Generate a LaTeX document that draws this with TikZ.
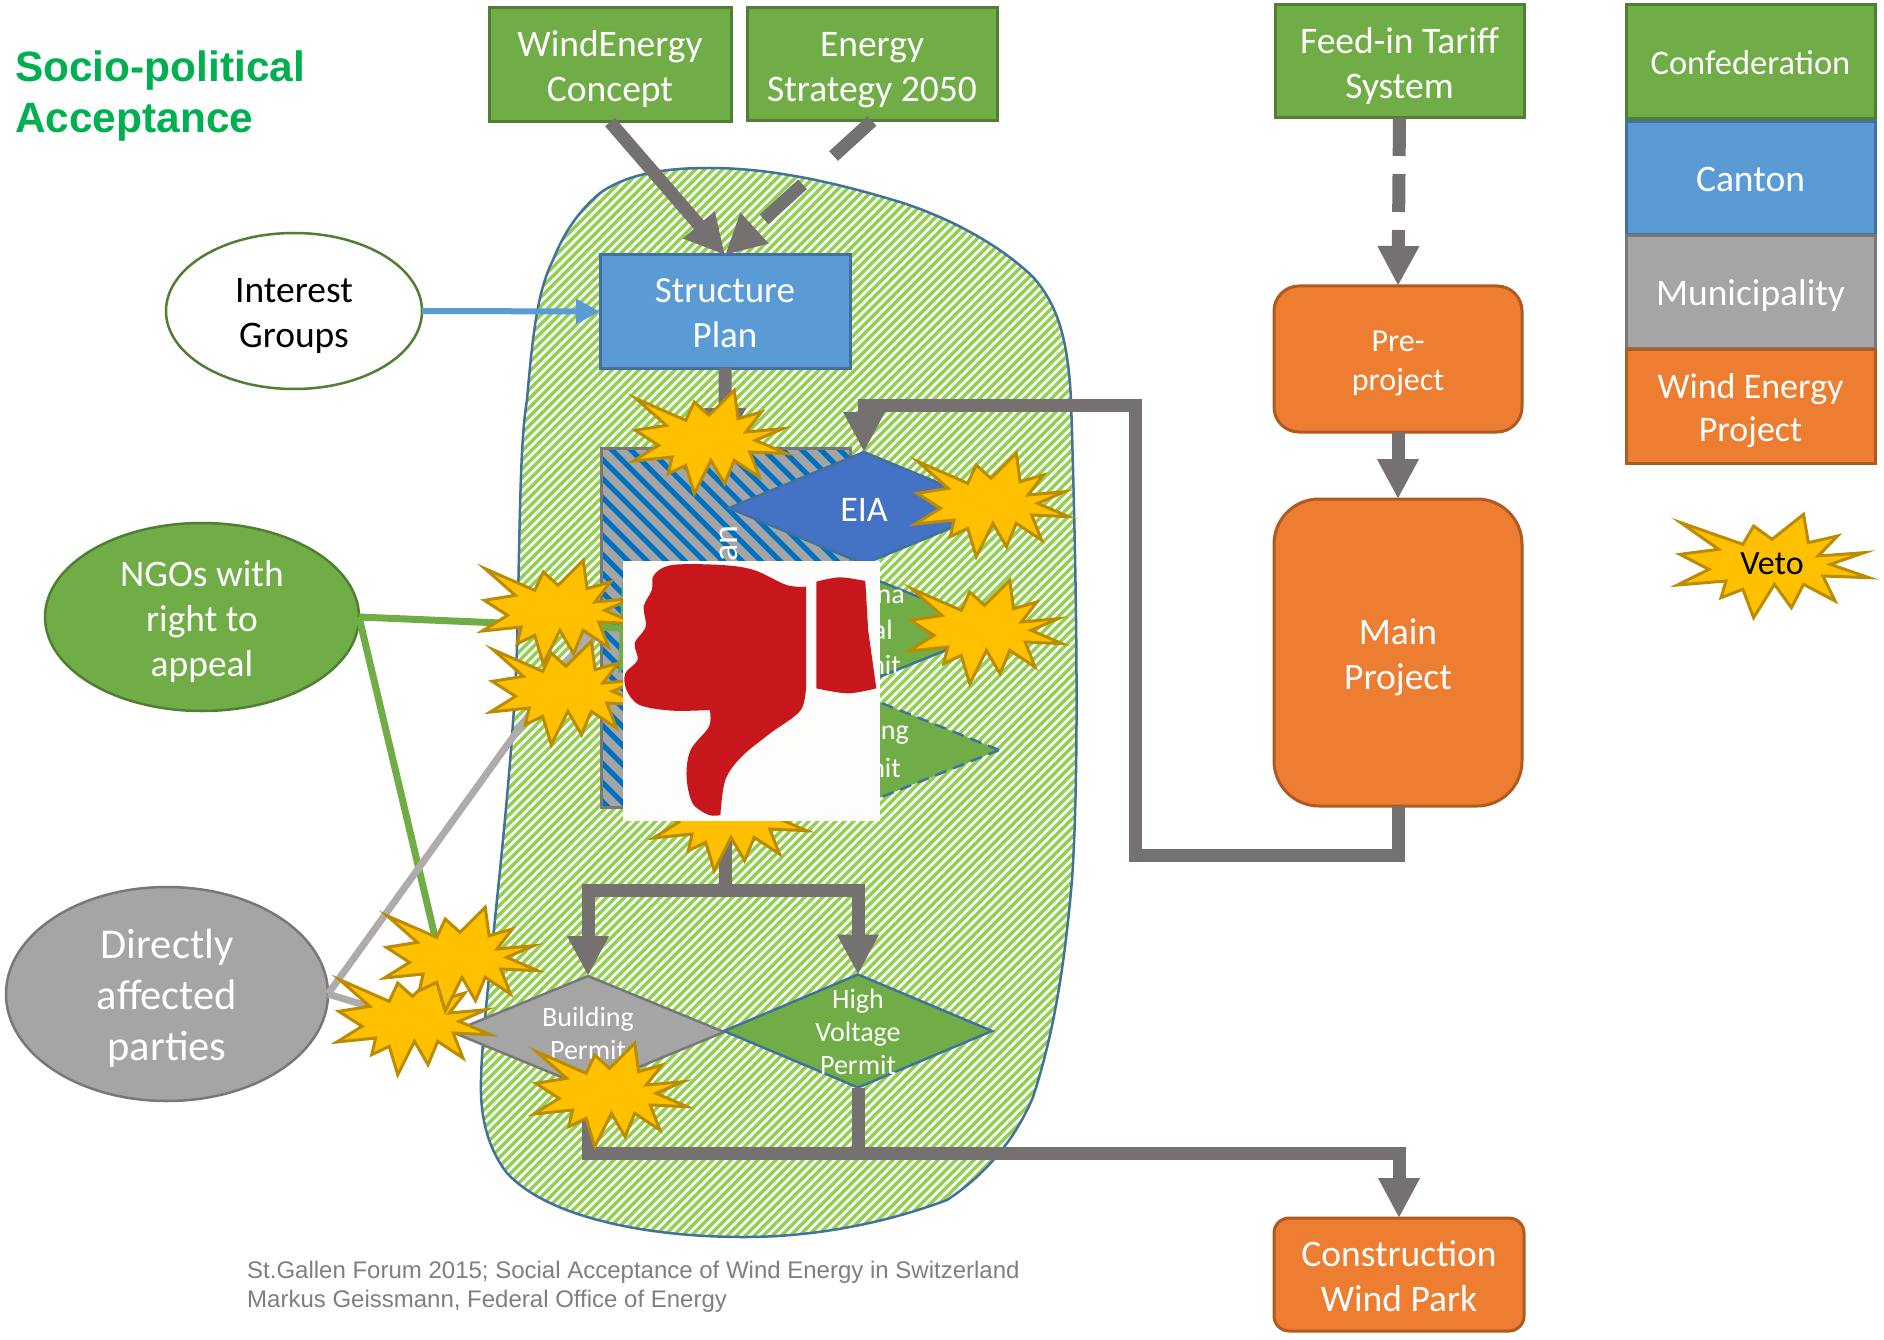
\documentclass[tikz,border=0pt]{standalone}
\usepackage{fontspec}
\setmainfont{Carlito}
\newfontfamily\arialfont{Liberation Sans}
\usetikzlibrary{arrows.meta,shapes.geometric}
\definecolor{cgreen}{HTML}{70AD47}\definecolor{cgreenb}{HTML}{507E32}
\definecolor{cblue}{HTML}{5B9BD5}\definecolor{cblueb}{HTML}{41719C}
\definecolor{cgrey}{HTML}{A5A5A5}\definecolor{cgreyb}{HTML}{787878}
\definecolor{corange}{HTML}{ED7D31}\definecolor{corangeb}{HTML}{AE5A21}
\definecolor{flowgrey}{HTML}{767171}\definecolor{lightgrey}{HTML}{AFABAB}
\definecolor{stripegreen}{HTML}{92D050}\definecolor{stripeblue}{HTML}{0070C0}
\definecolor{eiablue}{HTML}{4472C4}\definecolor{titlegreen}{HTML}{00B050}
\definecolor{burstfill}{HTML}{FFC000}\definecolor{burstline}{HTML}{BC8C00}
\definecolor{handred}{HTML}{C8171C}\definecolor{imgwhite}{HTML}{FDFEFB}
\definecolor{foot}{HTML}{7F7F7F}
\newcommand\fs[2]{\fontsize{#1}{#2}\selectfont}
\newcommand\fl{\rule{0pt}{1.03em}}
\newcommand\vetostar[2]{%
  \begin{scope}[shift={(#1)},x=#2*0.388pt,y=-0.33333pt]
    \draw[burst] (65,-155)--(75,-70)--(135,-90)--(95,-30)--(190,-40)--(120,-5)--(200,35)--(105,30)--(130,105)--(65,55)--(40,125)--(5,55)--(-38,155)--(-60,70)--(-105,95)--(-95,45)--(-195,57)--(-130,10)--(-190,-35)--(-110,-50)--(-188,-130)--(-60,-65)--(-38,-120)--(0,-80)--cycle;
  \end{scope}}
\tikzset{
  evenlines/.style={execute at begin node={\rule{0pt}{1em}},execute at end node={\rule[-0.28em]{0pt}{0pt}}},
  box/.style={rectangle,line width=3pt,outer sep=0pt,inner sep=0pt,align=center,text=white,font=\fs{37.5}{45},evenlines},
  greenbox/.style={box,fill=cgreen,draw=cgreenb},
  bluebox/.style={box,fill=cblue,draw=cblueb},
  greybox/.style={box,fill=cgrey,draw=cgreyb},
  orangebox/.style={box,fill=corange,draw=corangeb},
  roundbox/.style={orangebox,rounded corners=#1},
  oval/.style={ellipse,line width=2.5pt,outer sep=0pt,inner sep=0pt},
  ovaltext/.style={inner sep=0pt,align=center,font=\fs{37.5}{45},evenlines},
  diam/.style={diamond,line width=2.5pt,outer sep=0pt,inner sep=0pt,aspect=2.5},
  dtext/.style={text=white,align=center,font=\fs{28}{33},inner sep=0pt},
  frag/.style={text=white,anchor=east,inner sep=0pt,font=\fs{28}{33}},
  flow/.style={line width=13pt,draw=flowgrey,-{Triangle[width=39pt,length=40pt]}},
  flowplain/.style={line width=13pt,draw=flowgrey},
  burst/.style={fill=burstfill,draw=burstline,line width=3pt,line join=miter},
  thinline/.style={line width=7pt},
}
\begin{document}
\begin{tikzpicture}[x=1pt,y=-1pt]
\useasboundingbox (0,0) rectangle (1884,1340);
\fill[white] (0,0) rectangle (1884,1340);

% named free points
\coordinate (s1) at (709,442);
\coordinate (s2) at (991,505);
\coordinate (s3) at (984.5,632);
\coordinate (s4) at (558,612);
\coordinate (s5) at (566,693);
\coordinate (s6) at (729,819);
\coordinate (s7) at (460,959);
\coordinate (s8) at (412.5,1023);
\coordinate (s9) at (609.5,1095);
\coordinate (vetoc) at (1772,566);
\coordinate (bus) at (0,1153);
\coordinate (c1) at (1135,855);
\coordinate (c2) at (1135,405);
\coordinate (ngoEndA) at (665,630);
\coordinate (ngoEndB) at (437,945);
\coordinate (dirEnd) at (603,612);

% hatched area
\def\blob{(710,168) .. controls (780,168) and (850,187) .. (900,202)
 .. controls (950,218) and (1000,245) .. (1033,277)
 .. controls (1058,305) and (1068,340) .. (1071,400)
 .. controls (1076,560) and (1080,760) .. (1072,880)
 .. controls (1065,960) and (1055,1030) .. (1033,1097)
 .. controls (1015,1140) and (985,1175) .. (947,1200)
 .. controls (880,1225) and (810,1237) .. (744,1237)
 .. controls (640,1237) and (545,1215) .. (507,1173)
 .. controls (485,1145) and (480,1110) .. (481,1080)
 .. controls (482,1010) and (512,800) .. (517,647)
 .. controls (520,520) and (520,440) .. (527,400)
 .. controls (533,330) and (538,290) .. (553,260)
 .. controls (565,230) and (580,210) .. (600,193)
 .. controls (630,172) and (670,168) .. (710,168) -- cycle}
\begin{scope}
  \clip \blob;
  \foreach \s in {450,459,...,2400}
    \draw[stripegreen,line width=3.4pt] (\s,100) -- (\s-1300,1400);
\end{scope}
\draw[cblueb,line width=2.5pt] \blob;

% plan rectangle
\node (plan) at (725.5,627.5) [rectangle,minimum width=249pt,minimum height=359pt,outer sep=0pt,inner sep=0pt] {};
\begin{scope}
  \clip (plan.south west) rectangle (plan.north east);
  \fill[cgrey] (plan.south west) rectangle (plan.north east);
  \foreach \s in {-255,-236,...,900}
    \draw[stripeblue,line width=5pt] (\s,400) -- (\s+450,850);
\end{scope}
\draw[cgreyb,line width=3pt] (plan.south west) rectangle (plan.north east);
\node[rotate=90,anchor=east,text=white,inner sep=0pt,font=\fs{36}{45}] (plantext) at (729,525) {an};

% boxes
\node[greenbox,minimum width=242pt,minimum height=114pt] (wind) at (610,65) {\fl WindEnergy\\Concept};
\node[greenbox,minimum width=250pt,minimum height=113pt] (energy) at (872,64.5) {\fl Energy\\Strategy 2050};
\node[greenbox,minimum width=249pt,minimum height=113pt] (feed) at (1399.5,61.5) {\fl Feed-in Tariff\\System};
\node[greenbox,minimum width=249pt,minimum height=114pt,font=\fs{34.5}{45}] (lconf) at (1750.5,62) {Confederation};
\node[bluebox,minimum width=249pt,minimum height=113pt] (lcanton) at (1750.5,178) {Canton};
\node[greybox,minimum width=249pt,minimum height=112pt] (lmuni) at (1750.5,292) {Municipality};
\node[orangebox,minimum width=249pt,minimum height=114pt,font=\fs{36}{43}] (lwep) at (1750.5,406) {\fl Wind Energy\\Project};
\node[bluebox,minimum width=250pt,minimum height=113pt,font=\fs{37}{45}] (structure) at (725,311.5) {\fl Structure\\Plan};
\node[roundbox=25pt,minimum width=248pt,minimum height=146pt,font=\fs{32}{39}] (pre) at (1398,359) {\fl Pre-\\project};
\node[roundbox=45pt,minimum width=248pt,minimum height=307pt] (main) at (1398,652.5) {\fl Main\\Project};
\node[roundbox=15pt,minimum width=250pt,minimum height=113pt] (ctor) at (1399,1274.5) {\fl Construction\\Wind Park};

% ellipses
\node[oval,fill=white,draw=cgreenb,minimum width=256pt,minimum height=156pt] (interest) at (294,311) {};
\node[ovaltext] (interestt) at (interest.center) {\fl Interest\\Groups};
\node[oval,fill=cgreen,draw=cgreenb,minimum width=314pt,minimum height=188pt] (ngo) at (202,617) {};
\node[ovaltext,text=white] (ngot) at (ngo.center) {\fl NGOs with\\right to\\appeal};
\node[oval,fill=cgrey,draw=cgreyb,minimum width=322pt,minimum height=214pt] (dir) at (167,994) {};
\node[ovaltext,text=white,font=\fs{42.5}{51}] (dirt) at (dir.center) {\fl Directly\\affected\\parties};

% diamonds
\node[diam,fill=eiablue,draw=cblueb,minimum width=270pt,minimum height=112pt] (eia) at (864,508) {};
\node[text=white,inner sep=0pt,font=\fs{36}{45}] (eiat) at (864,510) {EIA};
\node[diam,fill=cgreen,draw=cblueb,minimum width=270pt,minimum height=108pt] (cant) at (864,629) {};
\node[frag] (f1) at (905,597) {na};
\node[frag] (f2) at (893,630) {al};
\node[frag] (f3) at (901,665) {nit};
\node[diam,fill=cgreen,draw=cblueb,dash pattern=on 12pt off 7pt,minimum width=270pt,minimum height=108pt] (bld) at (864,750) {};
\node[frag] (f4) at (909,735) {ng};
\node[frag] (f5) at (901,768) {nit};
\node[diam,fill=cgrey,draw=cgreyb,minimum width=272pt,minimum height=112pt] (bp) at (588,1032) {};
\node[dtext] (bpt) at (588,1033) {Building\\Permit};
\node[diam,fill=cgreen,draw=cblueb,minimum width=268pt,minimum height=113pt] (hv) at (858,1031) {};
\node[dtext] (hvt) at (858,1032) {High\\Voltage\\Permit};

% connectors
\draw[flow] (wind.south) -- (structure.north);
\draw[flow,dash pattern=on 52pt off 42pt] (energy.south) -- (structure.north);
\draw[flow,dash pattern=on 38pt off 18pt] (feed.south) -- (pre.north);
\draw[flow] (pre.south) -- (main.north);
\draw[flow] (structure.south) -- (plan.north);
\draw[flow] (main.south) |- (c1) -- (c2) -| (eia.north);
\draw[flow] (plan.south) -- ++(0,83) -| (bp.north);
\draw[flow] (plan.south) -- ++(0,83) -| (hv.north);
\draw[flow] (bp.south) -- (bp.south |- bus) -| (ctor.north);
\draw[flowplain] (hv.south) -- (hv.south |- bus);
\draw[line width=6pt,draw=cblue,-{Triangle[width=24pt,length=24pt]}] (interest.east) -- (structure.west);
\draw[thinline,draw=cgreen,-{Triangle[width=90pt,length=45pt]}] (ngo.east) -- (ngoEndA);
\draw[thinline,draw=cgreen] (ngo.east) -- (ngoEndB);
\draw[thinline,draw=lightgrey,-{Triangle[width=32pt,length=45pt]}] (dir.east) -- (dirEnd);
\draw[thinline,draw=lightgrey] (dir.east) -- (bp.west);

% bursts
\vetostar{s6}{1}
\vetostar{s1}{1}
\vetostar{s2}{1}
\vetostar{s3}{1}
\vetostar{s4}{1}
\vetostar{s5}{1}
\vetostar{s8}{1}
\vetostar{s7}{1}
\vetostar{s9}{1}
\vetostar{vetoc}{1.25}
\node[inner sep=0pt,font=\fs{34}{40}] (vetot) at (1772,564) {Veto};

% thumb picture
\fill[imgwhite] (623,561) rectangle (880,821);
\begin{scope}[shift={(460,380)},x=0.408163pt,y=-0.33333pt]
  \fill[handred] plot[smooth,tension=.55] coordinates {(848,620)(800,615)(720,570)(640,555)(520,555)(475,585)(470,630)(450,680)(455,740)(428,790)(435,840)(405,880)(408,930)(440,975)(520,992)(612,990)}
    -- plot[smooth,tension=.55] coordinates {(612,990)(610,1040)(565,1110)(555,1190)(570,1270)(610,1305)(638,1305)}
    -- plot[smooth,tension=.55] coordinates {(638,1305)(650,1200)(690,1130)(760,1060)(835,990)(848,910)} -- cycle;
  \fill[handred] plot[smooth,tension=.55] coordinates {(873,605)(930,592)(993,603)} -- (1000,750) -- plot[smooth,tension=.55] coordinates {(1020,925)(950,940)(873,925)} -- cycle;
\end{scope}

% texts
\node[anchor=base west,inner sep=0pt,text=titlegreen,font=\arialfont\bfseries\fs{42.4}{51}] (title1) at (15,82) {Socio-political};
\node[anchor=base west,inner sep=0pt,text=titlegreen,font=\arialfont\bfseries\fs{42.4}{51}] (title2) at (15,133) {Acceptance};
\node[anchor=base west,inner sep=0pt,text=foot,font=\arialfont\fs{24}{29}] (foot1) at (247,1278) {St.Gallen Forum 2015; Social Acceptance of Wind Energy in Switzerland};
\node[anchor=base west,inner sep=0pt,text=foot,font=\arialfont\fs{24}{29}] (foot2) at (247,1307) {Markus Geissmann, Federal Office of Energy};
\end{tikzpicture}
\end{document}
